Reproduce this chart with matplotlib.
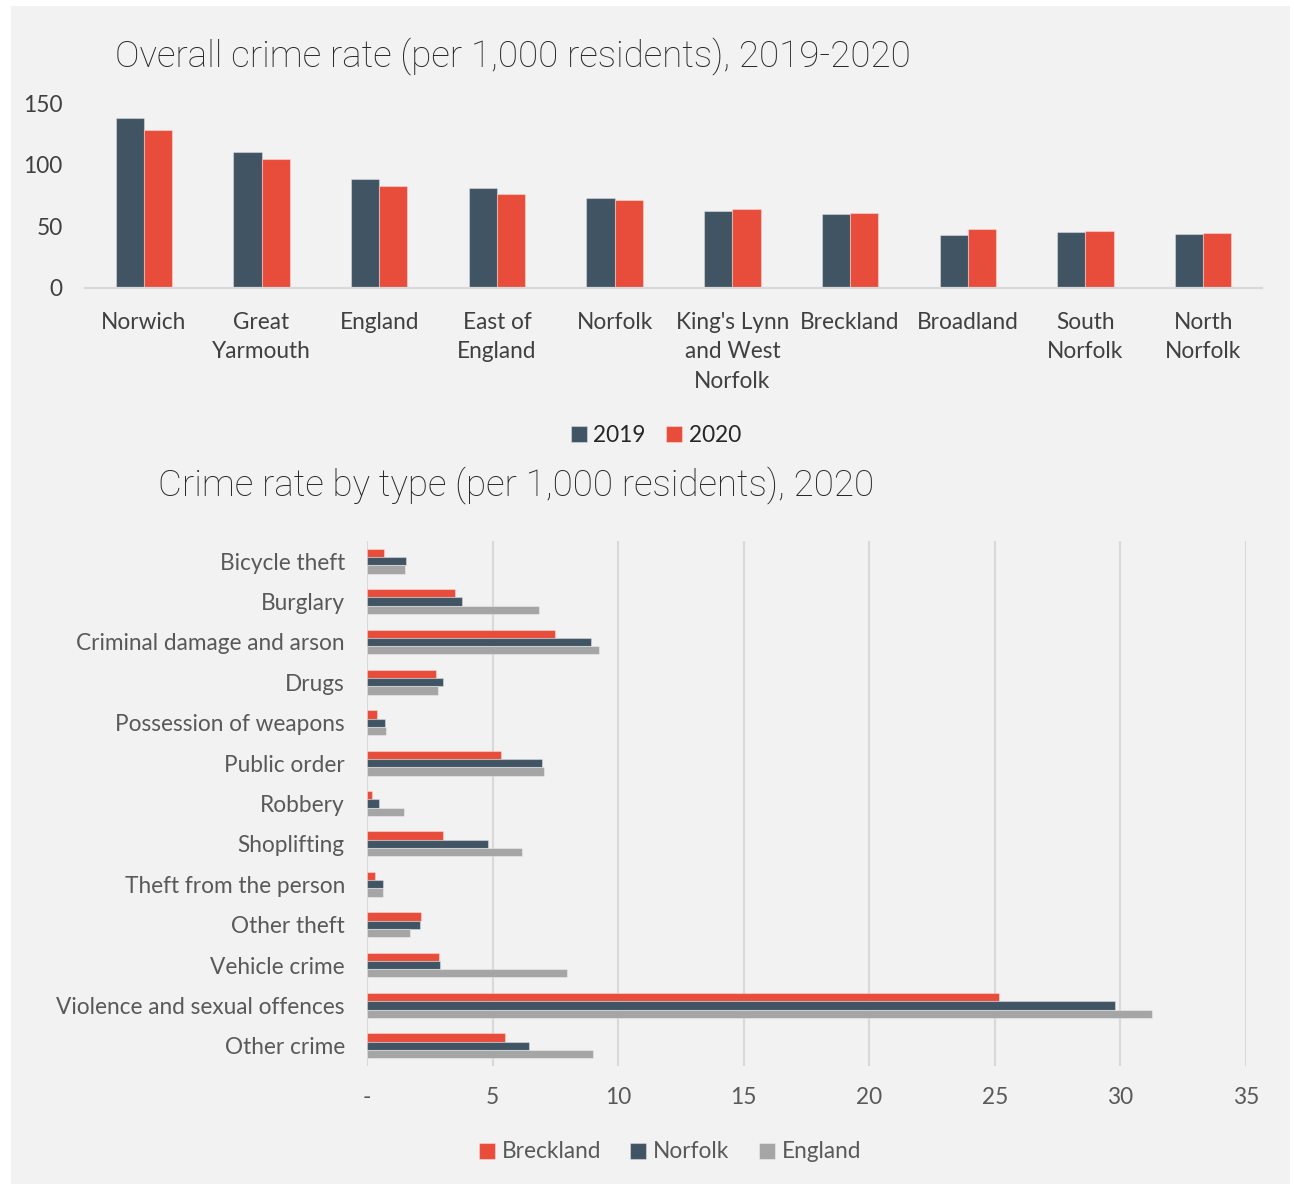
import matplotlib
matplotlib.use("Agg")
import matplotlib.pyplot as plt
from matplotlib.patches import Rectangle
import numpy as np

# ---- data: overall crime rate ----
areas = ["Norwich", "Great\nYarmouth", "England", "East of\nEngland", "Norfolk",
         "King's Lynn\nand West\nNorfolk", "Breckland", "Broadland", "South\nNorfolk",
         "North\nNorfolk"]
rate_2019 = [138, 110, 88, 81, 73, 62.7, 59.7, 43.3, 45.4, 43.5]
rate_2020 = [128, 105, 83, 76, 71.7, 63.8, 60.8, 48.2, 46.3, 44.9]
overall_yticks = [0, 50, 100, 150]

# ---- data: crime rate by type, 2020 ----
crime_types = ["Bicycle theft", "Burglary", "Criminal damage and arson", "Drugs",
               "Possession of weapons", "Public order", "Robbery", "Shoplifting",
               "Theft from the person", "Other theft", "Vehicle crime",
               "Violence and sexual offences", "Other crime"]
breckland = [0.69, 3.49, 7.48, 2.75, 0.40, 5.33, 0.19, 3.04, 0.33, 2.16, 2.86, 25.17, 5.48]
norfolk = [1.55, 3.78, 8.90, 3.03, 0.72, 6.96, 0.49, 4.81, 0.65, 2.11, 2.91, 29.78, 6.44]
england = [1.53, 6.85, 9.23, 2.83, 0.76, 7.03, 1.49, 6.18, 0.65, 1.71, 7.98, 31.27, 8.98]
type_xticks = [0, 5, 10, 15, 20, 25, 30, 35]
type_xticklabels = ["-", "5", "10", "15", "20", "25", "30", "35"]

NAVY = "#415464"
RED = "#E84C3A"
GREY = "#A5A5A5"
PANEL = "#F2F2F2"
GRID = "#D9D9D9"

plt.rcParams["font.family"] = ["Lato", "DejaVu Sans"]
TITLE_FONT = ["Roboto", "Lato", "DejaVu Sans"]

W, H = 1294, 1184
fig = plt.figure(figsize=(W / 100, H / 100), dpi=100)
fig.patch.set_facecolor("white")
fig.add_artist(Rectangle((11 / W, 0), (1290 - 11) / W, (H - 6) / H,
                         transform=fig.transFigure, facecolor=PANEL,
                         edgecolor="none", zorder=-10))


def ax_rect(x0, y0, x1, y1):
    return [x0 / W, 1 - y1 / H, (x1 - x0) / W, (y1 - y0) / H]


edge = (1, 1, 1, 0.35)
FS = 16.3

# ---- top chart ----
ax1 = fig.add_axes(ax_rect(85, 103, 1262, 288))
ax1.set_facecolor("none")
x = np.arange(len(areas))
bw = 0.24
ax1.bar(x - bw / 2, rate_2019, bw, color=NAVY, edgecolor=edge, linewidth=0.8, label="2019")
ax1.bar(x + bw / 2, rate_2020, bw, color=RED, edgecolor=edge, linewidth=0.8, label="2020")
ax1.set_xlim(-0.5, len(areas) - 0.5)
ax1.set_ylim(0, 150)
ax1.set_yticks(overall_yticks)
ax1.set_xticks(x)
ax1.set_xticklabels(areas, linespacing=1.52)
for s in ["top", "right", "left"]:
    ax1.spines[s].set_visible(False)
ax1.spines["bottom"].set_color(GRID)
ax1.spines["bottom"].set_linewidth(1.6)
ax1.tick_params(axis="both", length=0, labelsize=FS, colors="#404040")
ax1.tick_params(axis="y", pad=16)
ax1.tick_params(axis="x", pad=17)
ax1.legend(loc="center", bbox_to_anchor=(656 / W, 1 - 435 / H),
           bbox_transform=fig.transFigure, ncol=2, frameon=False,
           fontsize=FS, handlelength=0.7, handleheight=0.7,
           handletextpad=0.3, columnspacing=0.9, labelcolor="#262626")

fig.text(115 / W, 1 - 56 / H, "Overall crime rate (per 1,000 residents), 2019-2020",
         fontsize=26.5, fontweight="light", family=TITLE_FONT,
         color="#262626", ha="left", va="center")

# ---- bottom chart ----
ax2 = fig.add_axes(ax_rect(367, 541, 1246, 1066))
ax2.set_facecolor("none")
y = np.arange(len(crime_types))
bh = 0.205
ax2.barh(y - bh, breckland, bh, color=RED, edgecolor=edge, linewidth=0.8, label="Breckland", zorder=3)
ax2.barh(y, norfolk, bh, color=NAVY, edgecolor=edge, linewidth=0.8, label="Norfolk", zorder=3)
ax2.barh(y + bh, england, bh, color=GREY, edgecolor=edge, linewidth=0.8, label="England", zorder=3)
ax2.set_ylim(len(crime_types) - 0.5, -0.5)
ax2.set_xlim(0, 35)
ax2.set_yticks(y)
ax2.set_yticklabels(crime_types)
ax2.set_xticks(type_xticks)
ax2.set_xticklabels(type_xticklabels)
ax2.grid(axis="x", color=GRID, linewidth=1.5, zorder=0)
for s in ["top", "right", "left", "bottom"]:
    ax2.spines[s].set_visible(False)
ax2.tick_params(axis="both", length=0, labelsize=FS, colors="#595959")
ax2.tick_params(axis="y", pad=16)
ax2.tick_params(axis="x", pad=15)
ax2.legend(loc="center", bbox_to_anchor=(670 / W, 1 - 1152 / H),
           bbox_transform=fig.transFigure, ncol=3, frameon=False,
           fontsize=FS, handlelength=0.7, handleheight=0.7,
           handletextpad=0.3, columnspacing=1.3, labelcolor="#595959")

fig.text(158 / W, 1 - 485 / H, "Crime rate by type (per 1,000 residents), 2020",
         fontsize=26.5, fontweight="light", family=TITLE_FONT,
         color="#262626", ha="left", va="center")

fig.savefig("out.png", dpi=100, facecolor=fig.get_facecolor())
